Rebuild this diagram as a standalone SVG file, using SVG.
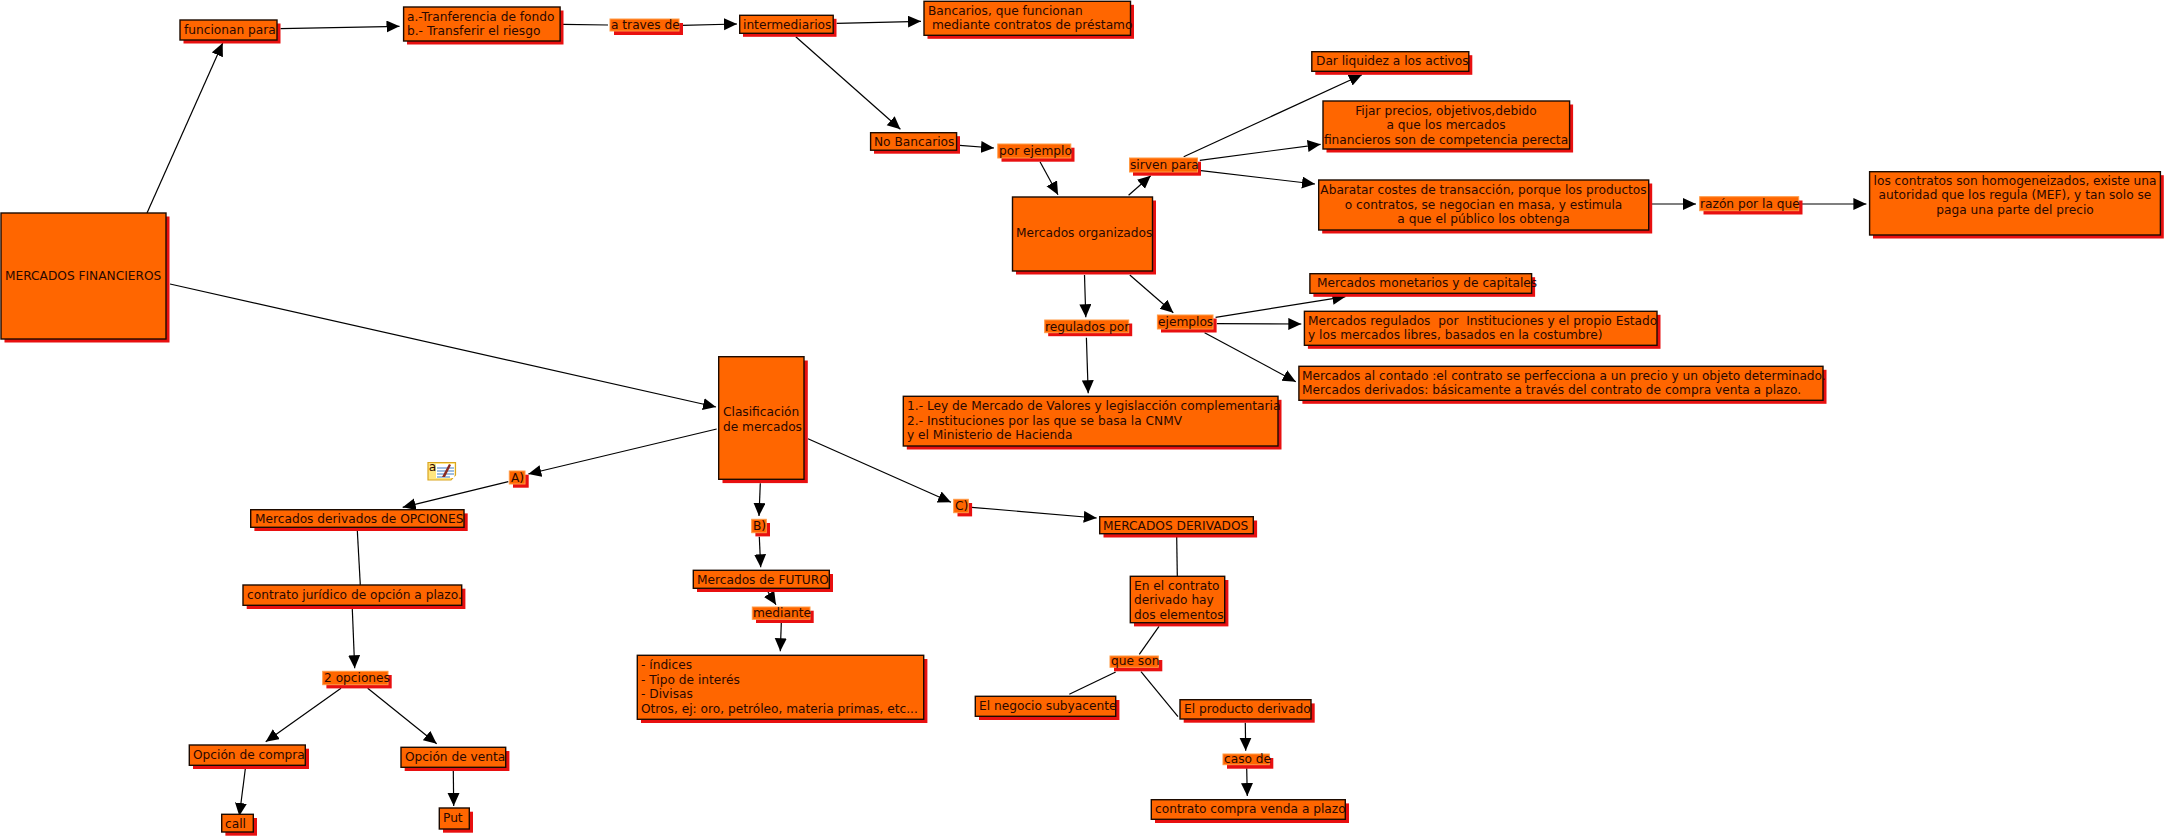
<svg xmlns="http://www.w3.org/2000/svg" width="2164" height="839" viewBox="0 0 2164 839">
<style>
text{font-family:"DejaVu Sans","Liberation Sans",sans-serif;font-size:12.2px;fill:#2a0800}
.m{text-anchor:middle}
.s{fill:#e81010}
.b{fill:#ff6600;stroke:#1c0a00;stroke-width:1.4}
.l{fill:#ff6600;stroke:#ff9a45;stroke-width:1}
#connectors line{stroke:#000;stroke-width:1.2}
#connectors line.a{marker-end:url(#arrow)}
</style>
<defs>
<marker id="arrow" markerUnits="userSpaceOnUse" markerWidth="14" markerHeight="13" refX="13" refY="6" orient="auto"><path d="M0,0L13,6L0,12Z" fill="#000"/></marker>
</defs>
<rect width="2164" height="839" fill="#fff"/>
<g id="connectors">
<line class="a" x1="147" y1="213" x2="222.7" y2="43"/>
<line class="a" x1="280.5" y1="28.7" x2="399.5" y2="26.3"/>
<line class="a" x1="170" y1="284" x2="716" y2="407"/>
<line x1="563" y1="24.3" x2="608" y2="25"/>
<line class="a" x1="682" y1="25.3" x2="737" y2="24"/>
<line class="a" x1="836.6" y1="23.3" x2="921" y2="21.3"/>
<line class="a" x1="795.8" y1="36.7" x2="900.4" y2="129.3"/>
<line class="a" x1="959.7" y1="145.3" x2="994" y2="148"/>
<line class="a" x1="1040" y1="161.7" x2="1058" y2="194.7"/>
<line class="a" x1="1128.6" y1="195.3" x2="1150.7" y2="175.7"/>
<line class="a" x1="1183.7" y1="156.7" x2="1361.9" y2="74.7"/>
<line class="a" x1="1199.8" y1="160.3" x2="1320.6" y2="144.3"/>
<line class="a" x1="1201" y1="170.7" x2="1315" y2="184"/>
<line class="a" x1="1652" y1="204" x2="1696" y2="204"/>
<line class="a" x1="1802" y1="204" x2="1866.4" y2="204"/>
<line class="a" x1="1084.5" y1="275" x2="1085.8" y2="317.3"/>
<line class="a" x1="1129.8" y1="275" x2="1173.3" y2="312.7"/>
<line class="a" x1="1215.6" y1="317.3" x2="1345.4" y2="296.7"/>
<line class="a" x1="1216.8" y1="323.7" x2="1301.3" y2="324"/>
<line class="a" x1="1204.6" y1="332.7" x2="1295.8" y2="381.7"/>
<line class="a" x1="1086.4" y1="337.7" x2="1088.2" y2="393.3"/>
<line class="a" x1="808" y1="438.7" x2="951" y2="502.3"/>
<line class="a" x1="971.7" y1="507.3" x2="1096.7" y2="518"/>
<line x1="1176.7" y1="537" x2="1177.3" y2="576"/>
<line x1="1159" y1="626.3" x2="1139.3" y2="654.3"/>
<line x1="1115.7" y1="672" x2="1069.3" y2="694.3"/>
<line x1="1141" y1="671.7" x2="1178" y2="716.7"/>
<line class="a" x1="1245.3" y1="722.7" x2="1245.7" y2="750.7"/>
<line class="a" x1="1246.7" y1="768.3" x2="1247.3" y2="796"/>
<line class="a" x1="716.7" y1="429" x2="528.3" y2="474"/>
<line class="a" x1="508.3" y1="481.7" x2="402.7" y2="507.3"/>
<line x1="357.3" y1="530.3" x2="360.3" y2="585"/>
<line class="a" x1="352.3" y1="609" x2="354.7" y2="668.3"/>
<line class="a" x1="341" y1="688.3" x2="265.7" y2="741.7"/>
<line class="a" x1="367.7" y1="688.3" x2="436.7" y2="743.7"/>
<line class="a" x1="245.3" y1="769" x2="239.3" y2="816"/>
<line class="a" x1="453.3" y1="771" x2="453.7" y2="806"/>
<line class="a" x1="760.3" y1="483.3" x2="759" y2="516"/>
<line class="a" x1="759.3" y1="536.7" x2="760.7" y2="567.3"/>
<line class="a" x1="768" y1="592" x2="776" y2="604.7"/>
<line class="a" x1="781.3" y1="622.7" x2="780.3" y2="651.3"/>
</g>
<g id="n-mf"><rect class="s" x="4.500" y="216.500" width="165" height="126"/><rect class="b" x="1" y="213" width="165" height="126"/><text x="5" y="280">MERCADOS FINANCIEROS</text></g>
<g id="n-funcionan"><rect class="s" x="183.500" y="23.500" width="97" height="20"/><rect class="b" x="180" y="20" width="97" height="20"/><text x="184" y="34">funcionan para</text></g>
<g id="n-transfer"><rect class="s" x="407" y="10.500" width="156.500" height="34"/><rect class="b" x="403.600" y="7" width="156.500" height="34"/><text x="407" y="20.500">a.-Tranferencia de fondo<tspan x="407" y="35">b.- Transferir el riesgo</tspan></text></g>
<g id="n-atraves"><rect class="s" x="614" y="23" width="69" height="12"/><rect class="l" x="610" y="19" width="69" height="12"/><text x="611" y="29">a traves de</text></g>
<g id="n-intermediarios"><rect class="s" x="743" y="18.800" width="93.500" height="18"/><rect class="b" x="739.700" y="15.300" width="93.500" height="18"/><text x="743" y="28.500">intermediarios</text></g>
<g id="n-bancarios"><rect class="s" x="927.500" y="4.800" width="206.500" height="34"/><rect class="b" x="924" y="1.300" width="206.500" height="34"/><text x="928" y="14.500">Bancarios, que funcionan<tspan x="932" y="29">mediante contratos de préstamo</tspan></text></g>
<g id="n-nobancarios"><rect class="s" x="874" y="136.200" width="86" height="17.500"/><rect class="b" x="870.600" y="132.700" width="86" height="17.500"/><text x="874" y="146">No Bancarios</text></g>
<g id="n-porejemplo"><rect class="s" x="1001.500" y="147.700" width="73" height="14"/><rect class="l" x="997.800" y="144" width="73" height="14"/><text x="999" y="154.500">por ejemplo</text></g>
<g id="n-sirven"><rect class="s" x="1133" y="161.700" width="68" height="14"/><rect class="l" x="1129.500" y="158" width="68" height="14"/><text x="1130" y="168.500">sirven para</text></g>
<g id="n-organizados"><rect class="s" x="1016" y="200.500" width="140" height="74"/><rect class="b" x="1012.500" y="197" width="140" height="74"/><text x="1016" y="237">Mercados organizados</text></g>
<g id="n-liquidez"><rect class="s" x="1315.300" y="55.200" width="157" height="19.600"/><rect class="b" x="1311.800" y="51.700" width="157" height="19.600"/><text x="1316" y="65">Dar liquidez a los activos</text></g>
<g id="n-fijar"><rect class="s" x="1326.500" y="104.500" width="246.600" height="48"/><rect class="b" x="1323" y="101" width="246.600" height="48"/><text class="m" x="1446" y="114.500">Fijar precios, objetivos,debido<tspan x="1446" y="129">a que los mercados</tspan><tspan x="1446" y="143.500">financieros son de competencia perecta</tspan></text></g>
<g id="n-abaratar"><rect class="s" x="1322.200" y="183.500" width="330" height="50"/><rect class="b" x="1318.700" y="180" width="330" height="50"/><text class="m" x="1483.500" y="194">Abaratar costes de transacción, porque los productos<tspan x="1483.500" y="208.500">o contratos, se negocian en masa, y estimula</tspan><tspan x="1483.500" y="223">a que el público los obtenga</tspan></text></g>
<g id="n-razon"><rect class="s" x="1703.500" y="200.500" width="99" height="14"/><rect class="l" x="1699.700" y="196.700" width="99" height="14"/><text x="1700" y="207.500">razón por la que</text></g>
<g id="n-contratos"><rect class="s" x="1873" y="175.200" width="290.800" height="63.300"/><rect class="b" x="1869.600" y="171.700" width="290.800" height="63.300"/><text class="m" x="2015" y="184.500">los contratos son homogeneizados, existe una<tspan x="2015" y="199">autoridad que los regula (MEF), y tan solo se</tspan><tspan x="2015" y="213.500">paga una parte del precio</tspan></text></g>
<g id="n-monetarios"><rect class="s" x="1313.400" y="277.200" width="221.700" height="19.600"/><rect class="b" x="1309.900" y="273.700" width="221.700" height="19.600"/><text x="1317" y="286.500">Mercados monetarios y de capitales</text></g>
<g id="n-regulados"><rect class="s" x="1307.900" y="314.800" width="352.600" height="34"/><rect class="b" x="1304.400" y="311.300" width="352.600" height="34"/><text x="1308" y="324.500" xml:space="preserve">Mercados regulados  por  Instituciones y el propio Estado<tspan x="1308" y="339">y los mercados libres, basados en la costumbre)</tspan></text></g>
<g id="n-contado"><rect class="s" x="1302.400" y="369.800" width="524.100" height="34"/><rect class="b" x="1298.900" y="366.300" width="524.100" height="34"/><text x="1302" y="379.500">Mercados al contado :el contrato se perfecciona a un precio y un objeto determinado.<tspan x="1302" y="394">Mercados derivados: básicamente a través del contrato de compra venta a plazo.</tspan></text></g>
<g id="n-reguladospor"><rect class="s" x="1048.200" y="323.500" width="84" height="12.700"/><rect class="l" x="1044.700" y="320" width="84" height="12.700"/><text x="1045" y="330.500">regulados por</text></g>
<g id="n-ejemplos"><rect class="s" x="1161" y="318.500" width="55.600" height="14"/><rect class="l" x="1157.400" y="315" width="55.600" height="14"/><text x="1158" y="325.500">ejemplos</text></g>
<g id="n-ley"><rect class="s" x="906.800" y="399.800" width="374.700" height="49.700"/><rect class="b" x="903.300" y="396.300" width="374.700" height="49.700"/><text x="907" y="410">1.- Ley de Mercado de Valores y legislacción complementaria<tspan x="907" y="424.500">2.- Instituciones por las que se basa la CNMV</tspan><tspan x="907" y="439">y el Ministerio de Hacienda</tspan></text></g>
<g id="n-clasif"><rect class="s" x="722.500" y="360.500" width="85.300" height="122.600"/><rect class="b" x="718.700" y="356.700" width="85.300" height="122.600"/><text x="723" y="416">Clasificación<tspan x="723" y="430.500">de mercados</tspan></text></g>
<g id="n-c"><rect class="s" x="957.500" y="503" width="14.600" height="13.400"/><rect class="l" x="953.700" y="499.300" width="14.600" height="13.400"/><text x="955" y="510">C)</text></g>
<g id="n-derivados"><rect class="s" x="1103.500" y="520.500" width="153.600" height="17"/><rect class="b" x="1099.700" y="516.700" width="153.600" height="17"/><text x="1103" y="530">MERCADOS DERIVADOS</text></g>
<g id="n-encontrato"><rect class="s" x="1134" y="580" width="94.400" height="46.400"/><rect class="b" x="1130.300" y="576.300" width="94.400" height="46.400"/><text x="1134" y="589.500">En el contrato<tspan x="1134" y="604">derivado hay</tspan><tspan x="1134" y="618.500">dos elementos</tspan></text></g>
<g id="n-queson"><rect class="s" x="1114" y="660" width="48.300" height="11.300"/><rect class="l" x="1110" y="656" width="48.300" height="11.300"/><text x="1111" y="664.500">que son</text></g>
<g id="n-negocio"><rect class="s" x="979" y="700" width="140.400" height="20"/><rect class="b" x="975.300" y="696.300" width="140.400" height="20"/><text x="979" y="709.500">El negocio subyacente</text></g>
<g id="n-producto"><rect class="s" x="1183.700" y="703.400" width="131" height="19.300"/><rect class="b" x="1180" y="699.700" width="131" height="19.300"/><text x="1184" y="712.500">El producto derivado</text></g>
<g id="n-caso"><rect class="s" x="1227" y="758" width="46.300" height="10.700"/><rect class="l" x="1223" y="754" width="46.300" height="10.700"/><text x="1224" y="763">caso de</text></g>
<g id="n-compraventa"><rect class="s" x="1155" y="803.400" width="194" height="19.600"/><rect class="b" x="1151.300" y="799.700" width="194" height="19.600"/><text x="1155" y="812.500">contrato compra venda a plazo</text></g>
<g id="n-a"><rect class="s" x="513" y="474.700" width="15.700" height="13"/><rect class="l" x="509.300" y="471" width="15.700" height="13"/><text x="511" y="482">A)</text></g>
<g id="n-opciones"><rect class="s" x="254.400" y="513.400" width="213.300" height="17.600"/><rect class="b" x="250.700" y="509.700" width="213.300" height="17.600"/><text x="255" y="522.500">Mercados derivados de OPCIONES</text></g>
<g id="n-juridico"><rect class="s" x="246.700" y="588.700" width="218.700" height="20.300"/><rect class="b" x="243" y="585" width="218.700" height="20.300"/><text x="247" y="599">contrato jurídico de opción a plazo.</text></g>
<g id="n-2op"><rect class="s" x="326.400" y="675" width="65.300" height="13.400"/><rect class="l" x="322.700" y="671.300" width="65.300" height="13.400"/><text x="324" y="681.500">2 opciones</text></g>
<g id="n-compra"><rect class="s" x="193" y="748.700" width="116" height="20.300"/><rect class="b" x="189.300" y="745" width="116" height="20.300"/><text x="193" y="759">Opción de compra</text></g>
<g id="n-venta"><rect class="s" x="404.700" y="751" width="104.700" height="20"/><rect class="b" x="401" y="747.300" width="104.700" height="20"/><text x="405" y="761">Opción de venta</text></g>
<g id="n-call"><rect class="s" x="225.400" y="818" width="31.600" height="17.700"/><rect class="b" x="221.700" y="814.300" width="31.600" height="17.700"/><text x="225" y="827.500">call</text></g>
<g id="n-put"><rect class="s" x="443" y="811.700" width="30" height="21"/><rect class="b" x="439.300" y="808" width="30" height="21"/><text x="443" y="822">Put</text></g>
<g id="n-b"><rect class="s" x="755.400" y="523" width="14.600" height="13.400"/><rect class="l" x="751.700" y="519.300" width="14.600" height="13.400"/><text x="753" y="530">B)</text></g>
<g id="n-futuro"><rect class="s" x="697" y="574" width="136" height="18"/><rect class="b" x="693.300" y="570.300" width="136" height="18"/><text x="697" y="583.500">Mercados de FUTURO</text></g>
<g id="n-mediante"><rect class="s" x="756" y="610.700" width="57.700" height="12.300"/><rect class="l" x="752.300" y="607" width="57.700" height="12.300"/><text x="753" y="617">mediante</text></g>
<g id="n-indices"><rect class="s" x="641" y="659" width="286.400" height="64"/><rect class="b" x="637.300" y="655.300" width="286.400" height="64"/><text x="641" y="669">- índices<tspan x="641" y="683.500">- Tipo de interés</tspan><tspan x="641" y="698">- Divisas</tspan><tspan x="641" y="712.500">Otros, ej: oro, petróleo, materia primas, etc...</tspan></text></g>
<g id="note-icon"><path d="M428,462.500H455.500V475L451,480H428Z" fill="#ffe680" stroke="#d9a520" stroke-width="1.200"/><rect x="436" y="464" width="18.500" height="14" fill="#fff"/><path d="M437,468H454M437,471H454M437,474H454M437,477H450" stroke="#3f7fc4" stroke-width="1.100"/><path d="M442,477L449,464L451,465L445,477Z" fill="#8a2a20"/><text x="428.800" y="470.500">a</text></g>
</svg>
